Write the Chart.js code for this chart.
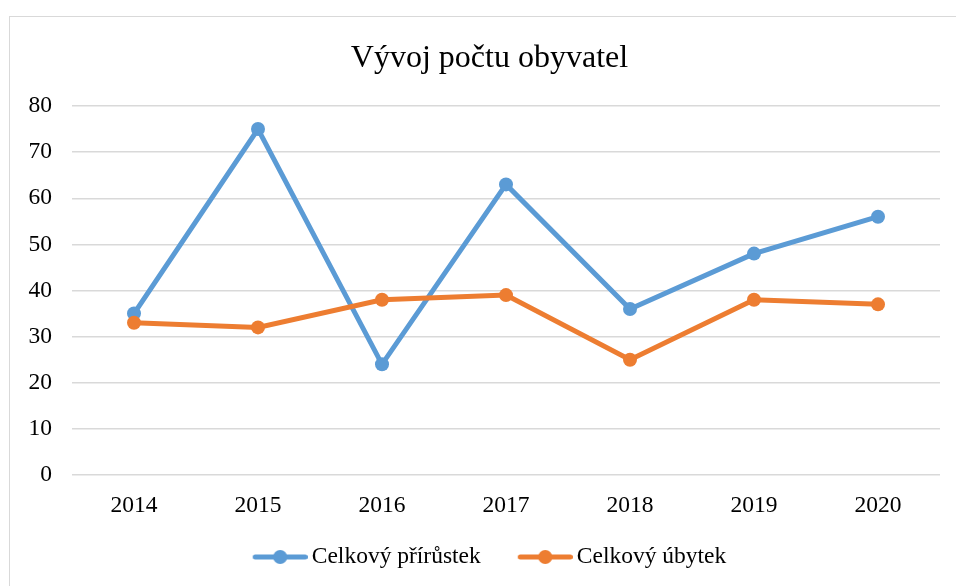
<!DOCTYPE html>
<html>
<head>
<meta charset="utf-8">
<script src="https://cdn.jsdelivr.net/npm/chart.js@4.4.1/dist/chart.umd.min.js"></script>
<style>
  html, body { margin: 0; padding: 0; background: #fff; }
  #wrap { position: relative; width: 956px; height: 586px; overflow: hidden; }
  #frame { position: absolute; left: 9px; top: 16px; width: 1000px; height: 700px; border: 1.5px solid #d9d9d9; box-sizing: border-box; pointer-events: none; }
  canvas { position: absolute; left: 0; top: 0; }
</style>
</head>
<body>
<div id="wrap">
  <div id="frame"></div>
  <canvas id="c" width="956" height="586"></canvas>
</div>
<script>
const titleText = 'Vývoj počtu obyvatel';
const years = ['2014', '2015', '2016', '2017', '2018', '2019', '2020'];
const seriesNames = ['Celkový přírůstek', 'Celkový úbytek'];
const prirustek = [35, 75, 24, 63, 36, 48, 56];
const ubytek = [33, 32, 38, 39, 25, 38, 37];
const seriesColors = ['#5B9BD5', '#ED7D31'];

const FONT = "'Liberation Serif', 'Times New Roman', serif";

function legendMarker(color) {
  const W = 92, H = 20;
  const cv = document.createElement('canvas');
  cv.width = W; cv.height = H;
  const g = cv.getContext('2d');
  const x0 = 37, x1 = 92;
  g.strokeStyle = color;
  g.lineWidth = 5;
  g.lineCap = 'round';
  g.beginPath();
  g.moveTo(x0 + 2.5, H / 2);
  g.lineTo(x1 - 2.5, H / 2);
  g.stroke();
  g.fillStyle = color;
  g.beginPath();
  g.arc((x0 + x1) / 2, H / 2, 7, 0, Math.PI * 2);
  g.fill();
  return cv;
}
const markers = seriesColors.map(legendMarker);
const legendSuffix = ['', '     '];

new Chart(document.getElementById('c'), {
  type: 'line',
  data: {
    labels: years,
    datasets: [
      { label: seriesNames[0], data: prirustek, borderColor: seriesColors[0], backgroundColor: seriesColors[0],
        borderWidth: 5, pointRadius: 7, pointHoverRadius: 7, pointBorderWidth: 0, tension: 0, order: 1 },
      { label: seriesNames[1], data: ubytek, borderColor: seriesColors[1], backgroundColor: seriesColors[1],
        borderWidth: 5, pointRadius: 7, pointHoverRadius: 7, pointBorderWidth: 0, tension: 0, order: 0 }
    ]
  },
  options: {
    responsive: false,
    animation: false,
    layout: { padding: { left: 0, right: -23, top: 0, bottom: 7.25 } },
    plugins: {
      title: {
        display: true, text: titleText, color: '#000',
        font: { family: FONT, size: 32, weight: 'normal' },
        padding: { top: 39, bottom: 28.6 }
      },
      legend: {
        position: 'bottom',
        labels: {
          font: { family: FONT, size: 23.5 },
          color: '#000',
          usePointStyle: true,
          pointStyleWidth: 76.65,
          padding: 7.6,
          generateLabels: (chart) => chart.data.datasets.map((ds, i) => ({
            text: ds.label + legendSuffix[i], pointStyle: markers[i], fillStyle: ds.borderColor,
            strokeStyle: ds.borderColor, lineWidth: 0, hidden: false, datasetIndex: i, fontColor: '#000'
          }))
        }
      },
      tooltip: { enabled: false }
    },
    scales: {
      x: {
        offset: true,
        grid: { display: false, drawTicks: false },
        border: { display: false },
        ticks: { color: '#000', font: { family: FONT, size: 23.5 }, padding: 17, maxRotation: 0 },
        afterFit: (s) => { s.height = 62.65; }
      },
      y: {
        min: 0, max: 80,
        grid: { color: '#d9d9d9', lineWidth: 1.5, drawTicks: false },
        border: { display: false },
        ticks: { stepSize: 10, color: '#000', font: { family: FONT, size: 23.5 }, padding: 20 },
        afterFit: (s) => { s.width = 72; }
      },
      yRight: {
        position: 'right',
        display: true,
        grid: { display: false, drawTicks: false },
        border: { display: false },
        ticks: { display: false },
        afterFit: (s) => { s.width = 39; }
      }
    }
  }
});
</script>
</body>
</html>
